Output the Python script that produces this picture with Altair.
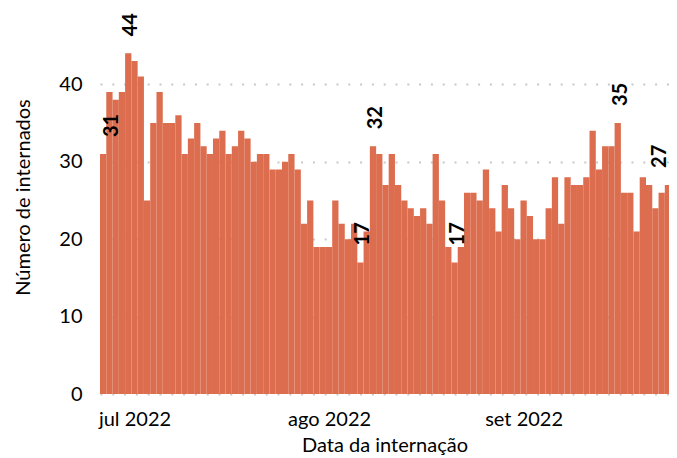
import altair as alt
import pandas as pd

# ---- data ----
start_date = "2022-06-26"
values = [31, 39, 38, 39, 44, 43, 41, 25, 35, 39,
          35, 35, 36, 31, 33, 35, 32, 31, 33, 34,
          31, 32, 34, 33, 30, 31, 31, 29, 29, 30,
          31, 29, 22, 25, 19, 19, 19, 25, 22, 20,
          22, 17, 21, 32, 31, 27, 31, 27, 25, 24,
          23, 24, 22, 31, 25, 19, 17, 19, 26, 26,
          25, 29, 24, 21, 27, 24, 20, 25, 23, 20,
          20, 24, 28, 22, 28, 27, 27, 28, 34, 29,
          32, 32, 35, 26, 26, 21, 28, 27, 24, 26,
          27]
label_dates = ["2022-06-26", "2022-06-30", "2022-08-06", "2022-08-08",
               "2022-08-21", "2022-09-16", "2022-09-24"]
month_names = ["jan", "fev", "mar", "abr", "mai", "jun",
               "jul", "ago", "set", "out", "nov", "dez"]
y_ticks = [0, 10, 20, 30, 40]

BAR = "#DC6D4E"
FONT = "Lato"

dates = pd.date_range(start_date, periods=len(values), freq="D")
df = pd.DataFrame({"d": dates, "n": values})
df["day"] = df["d"].dt.strftime("%Y-%m-%d")
df["date"] = df["d"].dt.strftime("%Y-%m-%dT%H:%M:%S")
df["start"] = (df["d"] - pd.Timedelta(hours=12)).dt.strftime("%Y-%m-%dT%H:%M:%S")
df["end"] = (df["d"] + pd.Timedelta(hours=12)).dt.strftime("%Y-%m-%dT%H:%M:%S")
df = df.drop(columns=["d"])

xscale = alt.Scale(domain=[alt.DateTime(year=2022, month=6, date=25, hours=12),
                           alt.DateTime(year=2022, month=9, date=24, hours=4)],
                   padding=0)
yscale = alt.Scale(domain=[0, 49.6], nice=False, padding=0)

month_js = "[" + ",".join("'%s'" % m for m in month_names) + "]"
label_expr = month_js + "[month(datum.value)] + ' ' + year(datum.value)"

bars = alt.Chart(df).mark_bar(color=BAR, clip=True).encode(
    x=alt.X("start:T", scale=xscale,
            axis=alt.Axis(values=[alt.DateTime(year=2022, month=m, date=1) for m in (7, 8, 9)],
                          labelExpr=label_expr, title="Data da internação",
                          grid=False, ticks=False, domain=False,
                          labelPadding=15, titlePadding=6,
                          labelFontSize=20, titleFontSize=20)),
    x2="end:T",
    y=alt.Y("n:Q", scale=yscale,
            axis=alt.Axis(values=y_ticks, title="Número de internados",
                          grid=True, gridDash=[2, 9.8], gridWidth=2, gridColor="#c8c8c8",
                          ticks=False, domain=False, labelPadding=18, titlePadding=25,
                          titleY=187,
                          labelFontSize=20, titleFontSize=20)),
    y2=alt.datum(0),
)

def labels(days, dy):
    return alt.Chart(df).transform_filter(
        alt.FieldOneOfPredicate(field="day", oneOf=days)
    ).mark_text(angle=270, align="left", baseline="middle", dx=17, dy=dy,
                font=FONT, fontWeight="bold", fontSize=20, color="black").encode(
        x=alt.X("date:T", scale=xscale),
        y=alt.Y("n:Q", scale=yscale),
        text="n:Q",
    )

chart = alt.layer(
    bars,
    labels(label_dates[1:-1], 3),
    labels(label_dates[:1], 9),
    labels(label_dates[-1:], -8),
).properties(
    width=569, height=384,
    autosize=alt.AutoSizeParams(type="none"),
    padding={"left": 92, "top": 2, "right": 0, "bottom": 64},
).configure_view(stroke=None).configure_axis(
    labelFont=FONT, titleFont=FONT, labelColor="black", titleColor="black",
    titleFontWeight="normal",
)

chart.save("out.html", embed_options={"renderer": "svg", "actions": False})
